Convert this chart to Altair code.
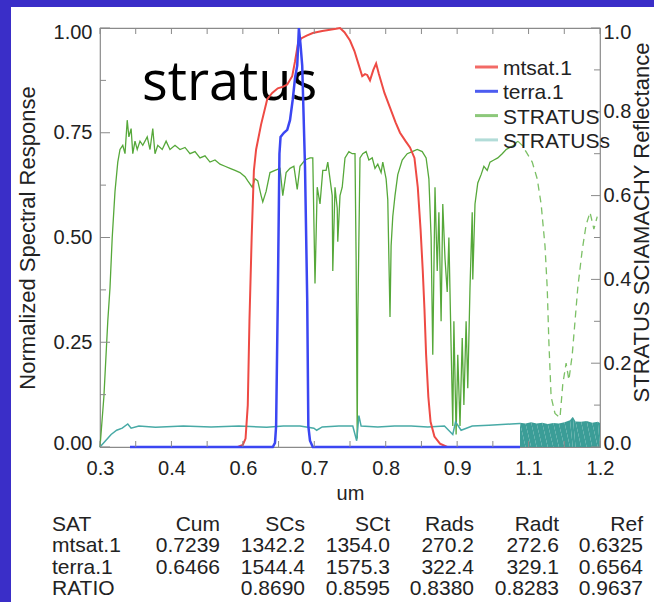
import altair as alt
import pandas as pd

FONT = "Liberation Sans"

# ---------------- data ----------------
x_major = [0.3, 0.428571, 0.557143, 0.685714, 0.814286, 0.942857, 1.071429, 1.2]
x_minor = [0.364286, 0.492857, 0.621429, 0.75, 0.878571, 1.007143, 1.135714]
yl_major = [0.0, 0.25, 0.5, 0.75, 1.0]
yl_minor = [0.125, 0.375, 0.625, 0.875]
yr_major = [0.0, 0.2, 0.4, 0.6, 0.8, 1.0]
yr_minor = [0.1, 0.3, 0.5, 0.7, 0.9]

mtsat_x = [0.530, 0.548, 0.557, 0.562, 0.566, 0.569, 0.573, 0.577, 0.581, 0.590, 0.601, 0.610,
           0.620, 0.630, 0.637, 0.646, 0.651, 0.656, 0.662, 0.672, 0.683, 0.700, 0.714, 0.725,
           0.732, 0.740, 0.750, 0.758, 0.765, 0.772, 0.777, 0.781, 0.786, 0.792, 0.797, 0.802,
           0.812, 0.822, 0.832, 0.840, 0.850, 0.858, 0.866, 0.872, 0.877, 0.881, 0.884, 0.887,
           0.891, 0.895, 0.902, 0.912, 0.925]
mtsat_y = [0.0, 0.0, 0.005, 0.02, 0.10, 0.30, 0.50, 0.66, 0.71, 0.77, 0.83, 0.845,
           0.856, 0.86, 0.865, 0.885, 0.92, 0.96, 0.975, 0.982, 0.988, 0.993, 0.996, 0.998,
           1.0, 0.99, 0.97, 0.945, 0.915, 0.885, 0.89, 0.888, 0.875, 0.90, 0.915, 0.89,
           0.845, 0.81, 0.775, 0.75, 0.73, 0.715, 0.69, 0.62, 0.52, 0.42, 0.33, 0.22,
           0.12, 0.06, 0.025, 0.008, 0.0]

terra_x = [0.354, 0.611, 0.615, 0.617, 0.620, 0.623, 0.625, 0.631, 0.637, 0.642, 0.647, 0.651,
           0.655, 0.658, 0.661, 0.664, 0.669, 0.673, 0.675, 0.678, 0.683, 1.056]
terra_y = [0.0, 0.0, 0.01, 0.05, 0.35, 0.70, 0.74, 0.75, 0.757, 0.78, 0.83, 0.88,
           0.91, 1.0, 0.96, 0.91, 0.67, 0.35, 0.05, 0.015, 0.0, 0.0]

stratus_x = [0.300, 0.307, 0.314, 0.318, 0.322, 0.327, 0.332, 0.336, 0.341, 0.345, 0.349, 0.352,
             0.356, 0.359, 0.363, 0.367, 0.372, 0.377, 0.385, 0.390, 0.395, 0.399, 0.404, 0.412,
             0.419, 0.426, 0.435, 0.444, 0.453, 0.462, 0.471, 0.480, 0.489, 0.498, 0.507, 0.516,
             0.525, 0.534, 0.543, 0.552, 0.561, 0.566, 0.574, 0.579, 0.584, 0.590, 0.593, 0.599,
             0.606, 0.615, 0.624, 0.629, 0.635, 0.642, 0.649, 0.655, 0.660, 0.669, 0.678, 0.683,
             0.687, 0.691, 0.696, 0.701, 0.707, 0.710, 0.714, 0.718, 0.719, 0.723, 0.727, 0.728,
             0.732, 0.736, 0.741, 0.748, 0.754, 0.759, 0.761, 0.763, 0.764, 0.768, 0.773, 0.779,
             0.784, 0.790, 0.795, 0.800, 0.806, 0.809, 0.815, 0.818, 0.820, 0.822, 0.824, 0.827,
             0.831, 0.836, 0.844, 0.853, 0.862, 0.871, 0.880, 0.887, 0.892, 0.896, 0.899, 0.903,
             0.907, 0.910, 0.914, 0.917, 0.921, 0.925, 0.928, 0.932, 0.935, 0.937, 0.941, 0.944,
             0.948, 0.952, 0.955, 0.959, 0.962, 0.966, 0.970, 0.971, 0.975, 0.980, 0.986, 0.991,
             0.997, 1.002, 1.009, 1.016, 1.024, 1.031, 1.038, 1.045, 1.052]
stratus_y = [0.00, 0.12, 0.30, 0.38, 0.50, 0.61, 0.68, 0.71, 0.72, 0.70, 0.78, 0.74,
             0.76, 0.70, 0.73, 0.71, 0.73, 0.72, 0.74, 0.71, 0.76, 0.70, 0.72, 0.71,
             0.73, 0.71, 0.72, 0.71, 0.715, 0.70, 0.705, 0.69, 0.695, 0.68, 0.685, 0.675,
             0.67, 0.665, 0.66, 0.655, 0.645, 0.635, 0.62, 0.64, 0.635, 0.60, 0.585, 0.61,
             0.655, 0.66, 0.665, 0.60, 0.655, 0.665, 0.67, 0.615, 0.67, 0.685, 0.69, 0.69,
             0.39, 0.62, 0.58, 0.66, 0.66, 0.68, 0.64, 0.60, 0.42, 0.62, 0.57, 0.49,
             0.60, 0.62, 0.69, 0.705, 0.70, 0.70, 0.45, 0.02, 0.30, 0.69, 0.70, 0.705,
             0.685, 0.69, 0.665, 0.675, 0.655, 0.68, 0.64, 0.59, 0.45, 0.31, 0.48, 0.55,
             0.60, 0.65, 0.685, 0.70, 0.705, 0.71, 0.705, 0.69, 0.64, 0.50, 0.22, 0.62,
             0.42, 0.56, 0.30, 0.58, 0.45, 0.37, 0.50, 0.24, 0.05, 0.30, 0.03, 0.22,
             0.05, 0.26, 0.10, 0.30, 0.14, 0.38, 0.56, 0.40, 0.58, 0.63, 0.65, 0.67,
             0.66, 0.68, 0.685, 0.69, 0.70, 0.71, 0.715, 0.72, 0.73]

stratus_tail_x = [1.052, 1.060, 1.069, 1.078, 1.087, 1.094, 1.101, 1.105, 1.108, 1.112, 1.119,
                  1.128, 1.133, 1.139, 1.144, 1.150, 1.155, 1.160, 1.168, 1.175, 1.182, 1.189, 1.195]
stratus_tail_y = [0.73, 0.72, 0.70, 0.68, 0.64, 0.58, 0.48, 0.38, 0.25, 0.12, 0.08,
                  0.07, 0.15, 0.20, 0.16, 0.22, 0.30, 0.38, 0.47, 0.53, 0.56, 0.52, 0.55]

stratuss_x = [0.300, 0.310, 0.320, 0.330, 0.340, 0.350, 0.356, 0.370, 0.400, 0.450, 0.500, 0.550,
              0.600, 0.630, 0.660, 0.685, 0.690, 0.700, 0.730, 0.755, 0.762, 0.766, 0.770, 0.800,
              0.830, 0.860, 0.890, 0.920, 0.935, 0.940, 0.950, 0.970, 1.000, 1.040, 1.056]
stratuss_y = [0.0, 0.015, 0.03, 0.04, 0.045, 0.055, 0.045, 0.05, 0.047, 0.05, 0.048, 0.05,
              0.047, 0.05, 0.05, 0.045, 0.04, 0.048, 0.05, 0.05, 0.015, 0.075, 0.05, 0.048,
              0.05, 0.05, 0.048, 0.05, 0.03, 0.06, 0.04, 0.05, 0.052, 0.055, 0.056]

stratuss_fill_x = [1.056, 1.066, 1.076, 1.086, 1.096, 1.106, 1.116, 1.126, 1.136, 1.146, 1.151,
                   1.156, 1.166, 1.176, 1.186, 1.196, 1.2]
stratuss_fill_y = [0.058, 0.056, 0.059, 0.056, 0.058, 0.055, 0.057, 0.056, 0.059, 0.064, 0.072,
                   0.061, 0.06, 0.062, 0.058, 0.06, 0.057]

legend_names = ["mtsat.1", "terra.1", "STRATUS", "STRATUSs"]
legend_colors = ["#f26a66", "#4c5cf0", "#8cc87a", "#b2dcd8"]

table_header = ["SAT", "Cum", "SCs", "SCt", "Rads", "Radt", "Ref"]
table_rows = [
    ["mtsat.1", "0.7239", "1342.2", "1354.0", "270.2", "272.6", "0.6325"],
    ["terra.1", "0.6466", "1544.4", "1575.3", "322.4", "329.1", "0.6564"],
    ["RATIO", "", "0.8690", "0.8595", "0.8380", "0.8283", "0.9637"],
]

# ---------------- styling ----------------
W, H = 500, 419
RED, BLUE, GREEN, GREEN2, TEAL, TEALFILL = "#ee4a44", "#3b46f2", "#56a83a", "#7cc066", "#48aaa6", "#3b9d97"
BORDER = "#3a2ec8"
AX = "#8a8a8a"
TXT = "#222222"

one = pd.DataFrame({"k": [0]})


def line_df(xs, ys):
    return pd.DataFrame({"x": xs, "y": ys, "i": list(range(len(xs)))})


x_axis = alt.Axis(title="um", values=x_major, format=".1f", ticks=False, domain=False, grid=False,
                  labelFont=FONT, labelFontSize=20, labelColor=TXT, labelPadding=11, labelFlush=False,
                  titleFont=FONT, titleFontSize=20, titleFontWeight="normal", titleColor=TXT, titlePadding=5)
x_scale = alt.Scale(domain=[0.3, 1.2], nice=False, zero=False)

yl_axis = alt.Axis(title="Normalized Spectral Response", orient="left", values=yl_major, format=".2f",
                   ticks=False, domain=False, grid=False, labelFont=FONT, labelFontSize=20, labelColor=TXT,
                   labelPadding=8, labelFlush=True, labelFlushOffset=6, titleFont=FONT, titleFontSize=22,
                   titleFontWeight="normal", titleColor=TXT, titlePadding=14)
yr_axis = alt.Axis(title="STRATUS SCIAMACHY Reflectance", orient="right", values=yr_major, format=".1f",
                   ticks=False, domain=False, grid=False, labelFont=FONT, labelFontSize=20, labelColor=TXT,
                   labelPadding=3, labelFlush=True, labelFlushOffset=6, titleFont=FONT, titleFontSize=22,
                   titleFontWeight="normal", titleColor=TXT, titleAngle=270, titleX=48, titleY=194,
                   titleAlign="center", titleBaseline="alphabetic")
y_scale = alt.Scale(domain=[0, 1], nice=False, zero=False)


def xenc():
    return alt.X("x:Q", scale=x_scale, axis=x_axis)


def yl():
    return alt.Y("y:Q", scale=y_scale, axis=yl_axis)


def yr():
    return alt.Y("y:Q", scale=y_scale, axis=yr_axis)


# ---------------- decoration: border strips ----------------
left_strip = alt.Chart(one).mark_rect(color=BORDER).encode(
    x=alt.value(-100), x2=alt.value(-89), y=alt.value(-28), y2=alt.value(574))
top_strip = alt.Chart(one).mark_rect(color=BORDER).encode(
    x=alt.value(-100), x2=alt.value(554), y=alt.value(-28), y2=alt.value(-21))

label_text = alt.Chart(pd.DataFrame({"t": ["stratus"]})).mark_text(
    font="Open Sans", fontSize=54, align="left", baseline="alphabetic", color="#000000"
).encode(text="t:N", x=alt.value(42), y=alt.value(72))

# ---------------- right-axis group (reflectance) ----------------
green = alt.Chart(line_df(stratus_x, stratus_y)).mark_line(color=GREEN, strokeWidth=1.3).encode(
    x=xenc(), y=yr(), order="i:Q")
green_tail = alt.Chart(line_df(stratus_tail_x, stratus_tail_y)).mark_line(
    color=GREEN2, strokeWidth=1.3, strokeDash=[7, 5]).encode(x=xenc(), y=yr(), order="i:Q")
teal = alt.Chart(line_df(stratuss_x, stratuss_y)).mark_line(color=TEAL, strokeWidth=1.5).encode(
    x=xenc(), y=yr(), order="i:Q")
teal_fill = alt.Chart(line_df(stratuss_fill_x, stratuss_fill_y)).mark_area(
    color=TEALFILL, opacity=1).encode(x=xenc(), y=yr(), order="i:Q")
r_major = alt.Chart(pd.DataFrame({"y": yr_major})).mark_rule(color=AX).encode(
    y=yr(), x=alt.value(W - 9), x2=alt.value(W))
r_minor = alt.Chart(pd.DataFrame({"y": yr_minor})).mark_rule(color=AX).encode(
    y=yr(), x=alt.value(W - 6), x2=alt.value(W))
right_group = alt.layer(green, green_tail, teal, teal_fill, r_major, r_minor)

# ---------------- left-axis group (normalized response) ----------------
red = alt.Chart(line_df(mtsat_x, mtsat_y)).mark_line(color=RED, strokeWidth=2).encode(
    x=xenc(), y=yl(), order="i:Q")
blue = alt.Chart(line_df(terra_x, terra_y)).mark_line(color=BLUE, strokeWidth=2.5).encode(
    x=xenc(), y=yl(), order="i:Q")
l_major = alt.Chart(pd.DataFrame({"y": yl_major})).mark_rule(color=AX).encode(
    y=yl(), x=alt.value(0), x2=alt.value(10))
l_minor = alt.Chart(pd.DataFrame({"y": yl_minor})).mark_rule(color=AX).encode(
    y=yl(), x=alt.value(0), x2=alt.value(6))
left_group = alt.layer(red, blue, l_major, l_minor)

# ---------------- x ticks (top and bottom, inward) ----------------
xt = pd.DataFrame({"x": x_major + x_minor})
xticks_bottom = alt.Chart(xt).mark_rule(color=AX).encode(x=xenc(), y=alt.value(H - 6), y2=alt.value(H))
xticks_top = alt.Chart(xt).mark_rule(color=AX).encode(x=xenc(), y=alt.value(0), y2=alt.value(6))

# ---------------- legend ----------------
leg_layers = []
for k, c in enumerate(legend_colors):
    leg_layers.append(alt.Chart(one).mark_rule(color=c, strokeWidth=3).encode(
        x=alt.value(375), x2=alt.value(398), y=alt.value(39 + 24.3 * k)))
leg_text = alt.Chart(pd.DataFrame({"t": ["\n".join(legend_names)]})).mark_text(
    font=FONT, fontSize=21, align="left", baseline="top", lineBreak="\n", lineHeight=24.3, color=TXT
).encode(text="t:N", x=alt.value(403), y=alt.value(30))

# ---------------- table ----------------
col_right = [None, 120, 205, 290, 374, 459, 543]
table_layers = []
for j, head in enumerate(table_header):
    s = "\n".join([head] + [row[j] for row in table_rows])
    align = "left" if j == 0 else "right"
    xpos = -48 if j == 0 else col_right[j]
    table_layers.append(alt.Chart(pd.DataFrame({"t": [s]})).mark_text(
        font=FONT, fontSize=21, align=align, baseline="top", lineBreak="\n", lineHeight=21.3, color=TXT
    ).encode(text="t:N", x=alt.value(xpos), y=alt.value(486)))

chart = alt.layer(
    left_strip, top_strip, label_text, right_group, left_group, xticks_bottom, xticks_top,
    *leg_layers, leg_text, *table_layers
).resolve_scale(y="independent").properties(
    width=W, height=H,
    autosize=alt.AutoSizeParams(type="none"),
    padding={"left": 100, "top": 28, "right": 54, "bottom": 155},
).configure(background="white").configure_view(stroke=AX, strokeWidth=1.2)

chart.save("out.html", embed_options={"renderer": "svg", "actions": False})
